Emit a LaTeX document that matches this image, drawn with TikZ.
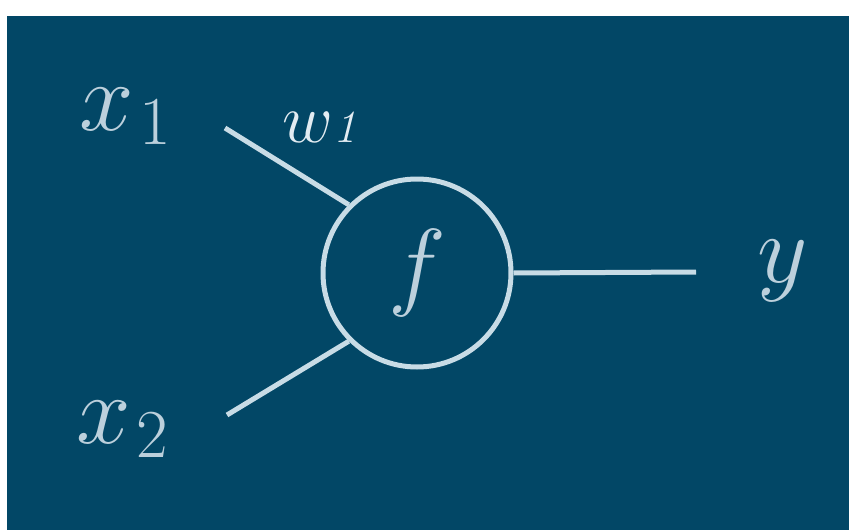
\documentclass[tikz,border=0pt]{standalone}
\RequirePackage{fix-cm}
\definecolor{bgblue}{HTML}{024766}
\definecolor{linec}{HTML}{C8DCE6}
\definecolor{textc}{HTML}{BCD0DC}
\definecolor{wc}{HTML}{E2ECF2}
\tikzset{
  conn/.style={draw=linec, line width=5pt},
  lbl/.style={inner sep=0pt, text=textc, font=\fontsize{98}{100}\selectfont},
  wlbl/.style={inner sep=0pt, text=wc, font=\fontsize{70}{72}\selectfont},
  neuron/.style={circle, draw=linec, line width=5pt, minimum size=188pt, inner sep=0pt, text=textc, font=\fontsize{98}{100}\selectfont}
}
\begin{document}
\begin{tikzpicture}[x=1pt,y=-1pt]
\useasboundingbox (0,0) rectangle (851,530);
\fill[bgblue] (7,16) rectangle (849,530);
\node[neuron] (f) at (417,273) {$f$};
\node[lbl, anchor=base west] (x1) at (79,130) {$x_{\kern6pt 1}$};
\node[lbl, anchor=base west] (x2) at (76,443) {$x_{\kern6pt 2}$};
\node[lbl, anchor=base west] (y) at (757,282) {$y$};
\node[wlbl, anchor=base west] (w1) at (282,142) {$w${\fontsize{46}{48}\selectfont\itshape 1}};
\coordinate (a1) at (225,128);
\coordinate (a2) at (227,415);
\coordinate (out) at (696,272);
\draw[conn] (a1) -- (f.135);
\draw[conn] (a2) -- (f.225);
\draw[conn] (f.east) -- (out);
\end{tikzpicture}
\end{document}
